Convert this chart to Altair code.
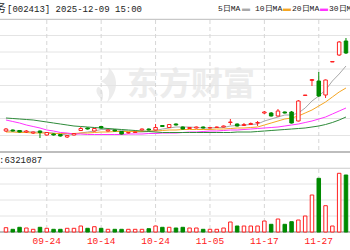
import altair as alt
import pandas as pd

dates = ["09-16","09-17","09-18","09-19","09-22","09-23","09-24","09-25","09-26","09-29","09-30",
         "10-09","10-10","10-13","10-14","10-15","10-16","10-17","10-20","10-21","10-22","10-23","10-24",
         "10-27","10-28","10-29","10-30","10-31","11-03","11-04","11-05","11-06","11-07","11-10","11-11",
         "11-12","11-13","11-14","11-17","11-18","11-19","11-20","11-21","11-24","11-25","11-26","11-27",
         "11-28","12-01","12-02","12-03"]

opens  = [6.42,6.44,6.43,6.40,6.38,6.42,6.34,6.36,6.35,6.30,6.34,6.43,6.48,6.42,6.51,6.42,6.44,6.41,6.38,6.39,
          6.44,6.46,6.44,6.53,6.49,6.56,6.50,6.47,6.48,6.50,6.48,6.49,6.50,6.59,6.56,6.53,6.55,6.58,6.78,6.78,
          6.72,6.80,6.80,6.62,7.13,7.43,7.42,7.14,7.80,7.94,8.22]
closes = [6.46,6.42,6.40,6.42,6.40,6.39,6.39,6.34,6.32,6.33,6.37,6.47,6.46,6.47,6.48,6.44,6.42,6.36,6.39,6.40,
          6.46,6.44,6.49,6.51,6.55,6.54,6.46,6.49,6.50,6.48,6.49,6.50,6.52,6.60,6.52,6.55,6.57,6.59,6.80,6.72,
          6.82,6.78,6.58,7.02,7.14,7.45,7.12,7.44,7.81,8.20,7.98]
highs  = [6.48,6.45,6.44,6.44,6.41,6.43,6.40,6.37,6.36,6.34,6.38,6.50,6.49,6.48,6.52,6.45,6.45,6.42,6.40,6.41,
          6.47,6.47,6.56,6.54,6.56,6.57,6.51,6.50,6.51,6.51,6.50,6.51,6.53,6.66,6.57,6.58,6.59,6.62,6.82,6.80,
          6.86,6.81,6.82,7.04,7.14,7.46,7.60,7.45,7.81,8.22,8.28]
lows   = [6.40,6.41,6.39,6.38,6.36,6.28,6.33,6.33,6.31,6.28,6.33,6.42,6.45,6.41,6.47,6.41,6.41,6.35,6.37,6.38,
          6.43,6.43,6.43,6.50,6.48,6.53,6.45,6.46,6.47,6.47,6.47,6.48,6.49,6.54,6.51,6.52,6.54,6.52,6.76,6.71,
          6.71,6.77,6.57,6.61,7.13,7.32,7.10,7.08,7.80,7.92,7.96]
volumes = [430000,270000,470000,400000,270000,470000,370000,270000,270000,370000,370000,600000,370000,530000,
           370000,270000,270000,270000,270000,270000,270000,330000,600000,470000,470000,400000,470000,400000,
           400000,270000,270000,270000,400000,1000000,600000,600000,600000,600000,1100000,770000,1300000,
           770000,1030000,1200000,1600000,3700000,5370000,2630000,600000,5870000,5700000]

ma5  = [6.42,6.42,6.42,6.41,6.40,6.40,6.39,6.38,6.36,6.34,6.35,6.38,6.40,6.42,6.45,6.45,6.45,6.43,6.42,6.40,
        6.40,6.41,6.43,6.46,6.48,6.50,6.50,6.50,6.49,6.48,6.48,6.49,6.49,6.52,6.53,6.54,6.55,6.56,6.62,6.66,
        6.70,6.74,6.74,6.78,6.88,7.02,7.12,7.24,7.42,7.56,7.72]
ma10 = [6.40,6.40,6.39,6.39,6.38,6.38,6.38,6.37,6.37,6.37,6.37,6.38,6.38,6.39,6.40,6.40,6.41,6.41,6.41,6.41,
        6.41,6.42,6.42,6.43,6.44,6.44,6.45,6.45,6.45,6.45,6.45,6.46,6.46,6.47,6.48,6.48,6.49,6.50,6.54,6.58,
        6.62,6.66,6.68,6.72,6.78,6.84,6.92,7.00,7.10,7.20,7.28]
ma20 = [6.64,6.61,6.58,6.54,6.51,6.48,6.44,6.42,6.39,6.38,6.36,6.36,6.35,6.35,6.35,6.35,6.35,6.35,6.36,6.36,
        6.36,6.37,6.37,6.38,6.38,6.38,6.39,6.40,6.40,6.41,6.42,6.42,6.43,6.44,6.44,6.45,6.46,6.47,6.48,6.49,
        6.50,6.52,6.54,6.56,6.59,6.62,6.66,6.70,6.76,6.82,6.88]
ma30 = [6.68,6.67,6.66,6.65,6.64,6.62,6.60,6.58,6.56,6.54,6.52,6.51,6.50,6.49,6.48,6.47,6.46,6.45,6.44,6.43,
        6.42,6.41,6.40,6.39,6.39,6.39,6.39,6.39,6.39,6.39,6.39,6.39,6.39,6.39,6.40,6.40,6.40,6.41,6.42,6.43,
        6.44,6.45,6.46,6.47,6.48,6.50,6.52,6.55,6.59,6.64,6.70]

label_dates = ["09-24", "10-14", "10-24", "11-05", "11-17", "11-27"]
price_grid = [6.00, 6.33, 6.67, 7.00, 7.33, 7.66, 8.00, 8.33, 8.66]
volume_grid = [0, 1600000, 3200000, 4800000, 6400000]
legend_names = ["5日MA", "10日MA", "20日MA", "30日MA"]

RED = "#ff2020"
GREEN = "#008a00"
MONO = "Liberation Mono"

idx = list(range(len(dates)))
df = pd.DataFrame({"i": idx, "date": dates, "open": opens, "close": closes,
                   "high": highs, "low": lows, "vol": volumes})
df["dir"] = ["up" if c >= o else "down" for o, c in zip(opens, closes)]

ma_rows = []
for name, vals in [("MA5", ma5), ("MA10", ma10), ("MA20", ma20), ("MA30", ma30)]:
    for i, v in enumerate(vals):
        ma_rows.append({"i": i, "ma": name, "v": v})
ma_df = pd.DataFrame(ma_rows)

lab_df = pd.DataFrame({"date": label_dates, "i": [dates.index(d) for d in label_dates]})
pg_df = pd.DataFrame({"p": price_grid})
vg_df = pd.DataFrame({"v": volume_grid})
one = pd.DataFrame({"k": [0]})

xs = alt.Scale(domain=[-1 / 7, 50 - 1 / 7], range=[0, 350], nice=False, zero=False)
X = alt.X("i:Q", scale=xs, axis=None)
ps = alt.Scale(domain=[6.0, 8.66], range=[152, 19], nice=False, zero=False)
vs = alt.Scale(domain=[0, 6400000], range=[232, 168], nice=False, zero=False)
dir_fill = alt.Scale(domain=["up", "down"], range=["#ffffff", GREEN])
dir_stroke = alt.Scale(domain=["up", "down"], range=[RED, GREEN])

# watermark
wm_text = alt.Chart(one).mark_text(text="东方财富", font="Noto Sans CJK SC", fontWeight="bold",
                                   fontSize=32, color="#ececec", align="left", baseline="middle").encode(
    x=alt.value(127), y=alt.value(85))
flame = "M0.15,-1 C0.75,-0.45 0.7,0.45 0.05,1 C0.3,0.45 0.2,-0.05 -0.3,-0.2 C0.05,-0.4 0.2,-0.65 0.15,-1 Z M-0.45,0.1 C-0.2,0.2 -0.1,0.5 -0.2,0.85 C-0.5,0.6 -0.65,0.3 -0.45,0.1 Z"
wm_logo = alt.Chart(one).mark_point(shape=flame, filled=True, size=1250, color="#ececec", opacity=1).encode(
    x=alt.value(106), y=alt.value(85))

pgrid = alt.Chart(pg_df).mark_rule(color="#e4e4e4", strokeWidth=1).encode(
    y=alt.Y("p:Q", scale=ps, axis=None), x=alt.value(0), x2=alt.value(350))
vgrid = alt.Chart(vg_df).mark_rule(color="#e4e4e4", strokeWidth=1).encode(
    y=alt.Y("v:Q", scale=vs, axis=None), x=alt.value(0), x2=alt.value(350))
vline1 = alt.Chart(lab_df).mark_rule(color="#d6d6d6", strokeDash=[4, 3], strokeWidth=1).encode(
    x=X, y=alt.value(20), y2=alt.value(151))
vline2 = alt.Chart(lab_df).mark_rule(color="#d6d6d6", strokeDash=[4, 3], strokeWidth=1).encode(
    x=X, y=alt.value(169), y2=alt.value(231))

hdr_line = alt.Chart(one).mark_rule(color="#c8c8c8", strokeWidth=1).encode(
    y=alt.value(19.5), x=alt.value(0), x2=alt.value(350))
mid_line = alt.Chart(one).mark_rule(color="#bdbdbd", strokeWidth=2).encode(
    y=alt.value(152), x=alt.value(0), x2=alt.value(350))
vtop_line = alt.Chart(one).mark_rule(color="#d8d8d8", strokeWidth=1).encode(
    y=alt.value(168.5), x=alt.value(0), x2=alt.value(350))
bot_line = alt.Chart(one).mark_rule(color="#bdbdbd", strokeWidth=2).encode(
    y=alt.value(232), x=alt.value(0), x2=alt.value(350))

ma_colors = alt.Scale(domain=["MA5", "MA10", "MA20", "MA30"],
                      range=["#a8a8a8", "#f5a623", "#ff33ff", "#2e8b3a"])
ma_lines = alt.Chart(ma_df).mark_line(strokeWidth=1, clip=True).encode(
    x=X, y=alt.Y("v:Q", scale=ps, axis=None),
    color=alt.Color("ma:N", scale=ma_colors, legend=None), detail="ma:N")

wick = alt.Chart(df).mark_rule(strokeWidth=1, clip=True).encode(
    x=X, y=alt.Y("high:Q", scale=ps, axis=None), y2="low:Q",
    stroke=alt.Stroke("dir:N", scale=dir_stroke, legend=None))
body = alt.Chart(df).mark_bar(size=3.5, strokeWidth=1, clip=True).encode(
    x=X, y=alt.Y("open:Q", scale=ps, axis=None), y2="close:Q",
    fill=alt.Fill("dir:N", scale=dir_fill, legend=None),
    stroke=alt.Stroke("dir:N", scale=dir_stroke, legend=None))
vol = alt.Chart(df).mark_bar(size=3.5, strokeWidth=1, clip=True).encode(
    x=X, y=alt.Y("vol:Q", scale=vs, axis=None),
    fill=alt.Fill("dir:N", scale=dir_fill, legend=None),
    stroke=alt.Stroke("dir:N", scale=dir_stroke, legend=None))

date_txt = alt.Chart(lab_df).mark_text(font=MONO, fontSize=9.5, color=RED, baseline="middle").encode(
    x=X, y=alt.value(241), text="date:N")

hdr_cjk = alt.Chart(one).mark_text(text="务", font="Noto Sans CJK SC", fontSize=11, color="#222",
                                   align="left", baseline="middle").encode(x=alt.value(-5), y=alt.value(9))
hdr_txt = alt.Chart(one).mark_text(text="[002413] 2025-12-09 15:00", font=MONO, fontSize=9,
                                   color="#222", align="left", baseline="middle").encode(
    x=alt.value(7), y=alt.value(9))

leg_df = pd.DataFrame({"name": legend_names, "ma": ["MA5", "MA10", "MA20", "MA30"],
                       "tx": [218, 255, 292, 329], "dx": [242, 283, 320, 357]})
leg_txt = alt.Chart(leg_df).mark_text(font=MONO, fontSize=8, color="#222", align="left",
                                      baseline="middle").encode(
    x=alt.X("tx:Q", scale=None), y=alt.value(9), text="name:N")
leg_dash = alt.Chart(leg_df).mark_text(text="▬", fontSize=8, align="left", baseline="middle").encode(
    x=alt.X("dx:Q", scale=None), y=alt.value(9),
    color=alt.Color("ma:N", scale=ma_colors, legend=None))

vol_txt = alt.Chart(one).mark_text(text=":6321087", font=MONO, fontSize=9, color="#222",
                                   align="left", baseline="middle").encode(x=alt.value(-1), y=alt.value(160))

chart = alt.layer(
    wm_logo, wm_text, pgrid, vgrid, vline1, vline2, hdr_line, mid_line, vtop_line, bot_line,
    ma_lines, wick, body, vol, date_txt, hdr_cjk, hdr_txt, leg_txt, leg_dash, vol_txt
).resolve_scale(y="independent").properties(
    width=350, height=250, padding=0, autosize=alt.AutoSizeParams(type="none"),
    background="white"
).configure_view(stroke=None)

chart.save("out.html", embed_options={"renderer": "svg", "actions": False})
